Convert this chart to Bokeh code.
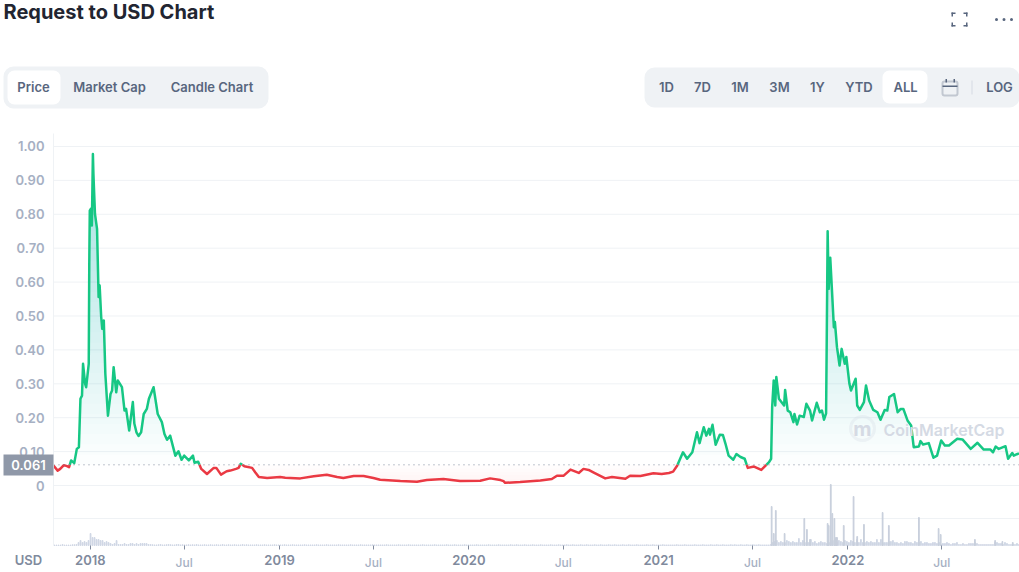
import numpy as np
from bokeh.embed import file_html
from bokeh.resources import INLINE
from bokeh.plotting import figure
from bokeh.models import (BoxAnnotation, FixedTicker, Label, LinearAxis, Range1d)

# ---------- data (days since 2018-01-01, USD) ----------
price_days = [-71,-63,-58,-51,-45,-41,-37,-31,-26,-22,-19,-16,-14,-10,-8,-3,-2,-1,1,3,5,6,9,13,16,18,21,23,26,29,
  34,39,42,45,50,53,61,66,69,75,82,85,89,93,98,103,109,113,122,130,138,143,148,154,164,170,176,181,190,198,
  201,208,214,225,238,243,252,263,270,281,286,290,297,312,318,325,341,366,376,405,431,456,476,488,508,527,546,559,598,630,
  649,681,713,752,771,791,797,800,829,868,890,900,913,926,942,951,961,971,993,1006,1032,1041,1061,1086,1102,1116,1124,1132,1143,1151,
  1161,1170,1175,1183,1188,1193,1195,1200,1206,1214,1220,1225,1231,1240,1246,1254,1262,1268,1280,1294,1309,1313,1315,1318,1321,1323,1328,1338,1340,1345,
  1350,1356,1358,1363,1368,1376,1381,1388,1392,1401,1407,1411,1415,1419,1420,1422,1424,1427,1430,1434,1436,1440,1445,1449,1455,1458,1464,1467,1476,1479,
  1484,1492,1496,1502,1510,1518,1524,1532,1537,1541,1550,1557,1563,1568,1576,1583,1588,1598,1601,1606,1617,1626,1633,1641,1648,1656,1672,1682,1698,1711,
  1723,1736,1741,1746,1752,1765,1770,1778,1781,1791]
price_values = [.059,.044,.049,.060,.057,.054,.074,.066,.108,.113,.256,.265,.359,.300,.290,.359,.654,.811,.816,.767,.978,.919,.801,.757,.556,.590,.497,.462,.487,.329,
  .206,.270,.280,.349,.275,.310,.290,.221,.226,.162,.246,.182,.157,.146,.157,.211,.226,.256,.290,.211,.187,.152,.135,.147,.088,.101,.076,.088,.074,.088,
  .067,.070,.049,.034,.052,.052,.032,.042,.044,.049,.052,.064,.057,.052,.039,.025,.022,.025,.023,.021,.027,.032,.025,.022,.028,.028,.022,.017,.013,.011,
  .016,.019,.013,.014,.021,.016,.013,.008,.010,.015,.019,.029,.029,.047,.037,.049,.046,.038,.021,.025,.020,.029,.028,.036,.034,.037,.041,.059,.098,.079,
  .098,.157,.125,.172,.147,.167,.150,.179,.120,.150,.149,.123,.088,.076,.093,.084,.079,.052,.056,.046,.069,.079,.231,.310,.236,.320,.256,.236,.282,.221,
  .216,.187,.211,.180,.206,.202,.241,.221,.192,.244,.216,.221,.194,.213,.388,.750,.580,.672,.585,.467,.482,.408,.354,.403,.359,.379,.300,.280,.315,.236,
  .223,.246,.295,.251,.223,.216,.194,.223,.221,.261,.270,.216,.226,.226,.192,.177,.113,.115,.131,.121,.125,.082,.088,.133,.118,.118,.138,.136,.108,.126,
  .106,.106,.098,.115,.108,.116,.079,.096,.088,.095]
reference_price = 0.061

volume_base = [.5,.5,.5,.5,1,.5,.5,.5,.5,.8,.8,1,3,5,3,4,3,5,12,8,8,6,6,5,5,3,4,3,2,1,2,5,1,
  1,1,2,1,1,2,2,1,2,1,2,2,2,2,1,1,
  .8,.6,.6,.8,1,.6,.6,.8,1,.8, .6,.6,1,1,.6,.8,.6,.6,.8,.6, .8,.6,1,.6,.6,.6,.8,.6,.6,.8,
  .6,.6,.8,.6,.6,1,.6,.6,.8,.6, .6,.8,.6,.6,.6,1,.6,.8,.6,.6, .6,.6,.8,.6,.6,.6,.8,.6,.6,.6,
  .6,.8,.6,.6,.6,.6,.8,.6,.6,.6, .8,.6,.6,.6,.6,.6,.8,.6,.6,.6, .6,.6,.8,.6,.6,.6,.6,.8,.6,.6,
  .6,.6,.6,.8,.6,.6,.6,.6,.6,.8, .6,.6,.6,.6,.8,.6,.6,.6,.6,.6, .8,.6,.6,.6,.6,.6,.6,.8,.6,.6,
  .6,.6,.6,.8,.6,.6,.6,.6,.8,.6, .6,.6,.6,.6,.6,.8,.6,.6,.6,.6, .6,.8,.6,.6,.6,.6,.6,.8,.6,.6,
  .6,.8,.6,.6,.6,.6,.8,.6,.6,.6, .6,.6,.8,.6,.6,.6,.6,.6,.8,.6, .6,.6,.6,.8,.6,.6,.6,.6,.6,.8,
  .6,.6,.8,.6,.6,.6,.8,.6,.6,.6, .8,.6,.6,.6,.8,.6,.6,.6,.6,.8, .6,.6,.6,.8,.6,.6,.6,.8,.6,.6,
  .8,.6,.6,.6,.8,.6,.6,.8,.6,.6, .6,.8,.6,.6,.8,.6,.6,.6,.8,.6, .6,.8,.6,.6,.6,.8,.6,.6,.8,.6,
  .6,.6,.8,.6,.6,.6,.6,.8,.6,.6, .8,.6,.6,.6,.6,.8,.6,.6,.6,.6, .6,.6,.8,.6,.6,.6,.8,.6,.6,.6,
  .6,.8,.6,.6,.6,.8,.6,.6,.6,.8, .6,.6,.8,.6,.6,.8,.6,.6,.6,.8, .6,.8,.6,.6,.8,.6,.6,.8,.6,
  .6,.8,.6,.6,.8,.6,.6,.6,.6,.6,
  1,3,4,5,3,4,3,3,5,4,3,4,3,3,7,3,5,3,3,3,
  6,3,4,2,3,4,3,3,2,3, 5,5,6,3,5,4,3,5,4,3, 5,4,3,6,3,6,3,3,4,3, 4,3,3,6,3,6,3,3,3,4,
  4,5,3,3,2,3,2,4,4,3, 3,2,4,3,3,4,2,3,3,2, 2,3,3,2,3,1,2,2,3,2, 1,2,2,3,1,1,2,1,1,2,
  2,2,3,2,1,1,1,1,1,1, 1,1,3,3,2,2,1,3,2,1, 1,1,1,2,1]
spike_days = [1314,1318,1322,1339,1377,1382,1388,1422,1424,1428,1431,1435,1438,1440,1453,1472,1479,1492,1528,1540,1598,1636,1640,1706,1745,1759,1779]
spike_values = [39,12,35,12,27,16,6,22,20,61,32,27,8,8,20,49,9,21,33,20,28,17,11,6,5,4,3]

year_ticks = [0, 365, 730, 1096, 1461]
year_labels = ["2018", "2019", "2020", "2021", "2022"]
mid_ticks = [181, 546, 912, 1277, 1642]
price_ticks = [0, .1, .2, .3, .4, .5, .6, .7, .8, .9, 1.0]
price_tick_labels = ["0", "0.10", "0.20", "0.30", "0.40", "0.50", "0.60", "0.70", "0.80", "0.90", "1.00"]
volume_grid = -0.0973

W, H = 1019, 572
FONT, SEMI, MED = "Inter", "Inter SemiBold", "Inter Medium"
GREEN, RED = "#16c784", "#ea3943"
GRID = "#eff2f5"
X0, X1 = -71, 1792          # chart area, days
Y0, Y1 = -0.177, 1.0383     # chart area, USD

# The frame fills the whole canvas so that the page furniture round the chart is not clipped.
p = figure(width=W, height=H, output_backend="svg", toolbar_location=None,
           x_range=Range1d(-173.2, X1), y_range=Range1d(-0.2566, 1.4306),
           min_border_left=0, min_border_right=0, min_border_top=0, min_border_bottom=0,
           outline_line_color=None, x_axis_type=None, y_axis_type=None,
           background_fill_color="white", border_fill_color="white")
p.extra_y_ranges = {"volume": Range1d(-27, 545)}

# y axis and grid
ya = LinearAxis(ticker=FixedTicker(ticks=price_ticks + [volume_grid]), fixed_location=X0, bounds=(Y0, Y1),
                major_label_overrides={**{t: l for t, l in zip(price_ticks, price_tick_labels)}, volume_grid: ""},
                axis_line_color=GRID, major_tick_line_color=None, minor_tick_line_color=None,
                major_label_text_color="#a6b0c3", major_label_text_font=SEMI,
                major_label_text_font_size="13px", major_label_standoff=3)
p.add_layout(ya, "left")
gy = price_ticks + [volume_grid]
p.segment(x0=[X0] * len(gy), x1=[X1] * len(gy), y0=gy, y1=gy, line_color=GRID, line_width=1, level="underlay")

# x axes: years (stronger) and mid-years (lighter)
xa = LinearAxis(ticker=FixedTicker(ticks=year_ticks), fixed_location=Y0, bounds=(X0, X1),
                major_label_overrides=dict(zip(year_ticks, year_labels)),
                axis_line_color=None, major_tick_line_color="#808a9d", minor_tick_line_color=None,
                major_tick_in=0, major_tick_out=4, major_label_standoff=5,
                major_label_text_color="#808a9d", major_label_text_font=SEMI, major_label_text_font_size="13px")
p.add_layout(xa, "below")
xb = LinearAxis(ticker=FixedTicker(ticks=mid_ticks), fixed_location=Y0, bounds=(X0, X1),
                major_label_overrides={t: "Jul" for t in mid_ticks},
                axis_line_color=None, major_tick_line_color="#808a9d", minor_tick_line_color=None,
                major_tick_in=0, major_tick_out=4, major_label_standoff=5,
                major_label_text_color="#a6b0c3", major_label_text_font=MED, major_label_text_font_size="12px")
p.add_layout(xb, "below")

# volume bars
vol_x = np.linspace(-69, 1791, len(volume_base))
p.vbar(x=vol_x, top=volume_base, width=1.5, color="#cfd6e4", y_range_name="volume")
p.vbar(x=spike_days, top=spike_values, width=1.5, color="#c8cfdc", y_range_name="volume")

# gradient fills built from stacked translucent bands
fx = np.arange(price_days[0], price_days[-1] + 1, 0.5)
fy = np.interp(fx, price_days, price_values)
for lvl in np.arange(reference_price, 1.0, 0.03):
    p.varea(x=fx, y1=np.full_like(fx, lvl), y2=np.maximum(fy, lvl), fill_color=GREEN, fill_alpha=0.0105)
for lvl in [reference_price, 0.05, 0.04, 0.03, 0.02]:
    p.varea(x=fx, y1=np.minimum(fy, lvl), y2=np.full_like(fx, lvl), fill_color=RED, fill_alpha=0.012)

# line split at the reference price
xs, ys = [price_days[0]], [price_values[0]]
for x0, y0, x1, y1 in zip(price_days, price_values, price_days[1:], price_values[1:]):
    if (y0 - reference_price) * (y1 - reference_price) < 0:
        xs.append(x0 + (reference_price - y0) / (y1 - y0) * (x1 - x0)); ys.append(reference_price)
    xs.append(x1); ys.append(y1)
xs, ys = np.array(xs), np.array(ys)
p.line(xs, np.where(ys >= reference_price, ys, np.nan), line_color=GREEN, line_width=2.5, line_join="round")
p.line(xs, np.where(ys <= reference_price, ys, np.nan), line_color=RED, line_width=2.5, line_join="round")
p.segment(x0=[X0], x1=[X1], y0=[reference_price], y1=[reference_price], line_color="#808a9d", line_width=1, line_dash="1 4")

# page furniture (canvas pixels, origin top-left)
def box(l, t, r, b, fill="#eff2f5", radius=0, line=None, lw=1, alpha=1.0):
    p.add_layout(BoxAnnotation(left=l, right=r, top=t, bottom=b,
                               left_units="canvas", right_units="canvas", top_units="canvas", bottom_units="canvas",
                               fill_color=fill, fill_alpha=alpha if fill else 0, line_color=line, line_width=lw,
                               border_radius=radius, level="overlay"))

def text(x, y, s, size=13, color="#58667e", font=SEMI, align="center", style="normal"):
    p.add_layout(Label(x=x, y=y, x_units="canvas", y_units="canvas", text=s, text_font=font,
                       text_font_size=f"{size}px", text_color=color, text_align=align,
                       text_baseline="middle", text_font_style=style, level="overlay"))

text(3, 11.5, "Request to USD Chart", size=20, color="#222531", font=FONT, align="left", style="bold")
box(3, 66, 268, 108, radius=10)
box(7, 70, 60, 104, fill="white", radius=7)
for cx, s in [(33, "Price"), (109, "Market Cap"), (211.5, "Candle Chart")]:
    text(cx, 86.5, s)
box(644, 67, 1019, 107, radius=10)
box(882, 70, 927, 103, fill="white", radius=7)
for cx, s in [(666, "1D"), (702, "7D"), (739.5, "1M"), (779, "3M"), (817, "1Y"), (858.5, "YTD"), (905, "ALL"), (999, "LOG")]:
    text(cx, 86.5, s)
box(942, 81, 957, 95, fill=None, line="#58667e", lw=2, radius=2)
box(942, 85, 957, 86.5, fill="#58667e")
box(945, 78.5, 946.5, 82, fill="#58667e")
box(953, 78.5, 954.5, 82, fill="#58667e")
box(971, 80, 972, 94, fill="#d5dae4")
# expand icon
for l, t, r, b in [(951, 12, 955, 13.5), (951, 12, 952.5, 16), (963, 12, 967, 13.5), (965.5, 12, 967, 16),
                   (951, 24.5, 955, 26), (951, 22, 952.5, 26), (963, 24.5, 967, 26), (965.5, 22, 967, 26)]:
    box(l, t, r, b, fill="#58667e")
for cx in (996, 1003.5, 1011):
    box(cx - 1.5, 17.5, cx + 1.5, 20.5, fill="#58667e", radius=2)
# price tag and currency
box(3, 454, 53, 475, fill="#8f98a8")
text(28, 464, "0.061", color="white", size=13)
text(28, 559, "USD", color="#808a9d", size=13)
# watermark
box(850, 416, 874, 440, fill=None, line="#d5dae4", lw=3, radius=12)
text(862, 428, "m", size=20, color="#d5dae4", font=FONT, style="bold")
text(883, 429, "CoinMarketCap", size=16, color="#d5dae4", font=SEMI, align="left")

open("out.html", "w").write(file_html(p, INLINE))
